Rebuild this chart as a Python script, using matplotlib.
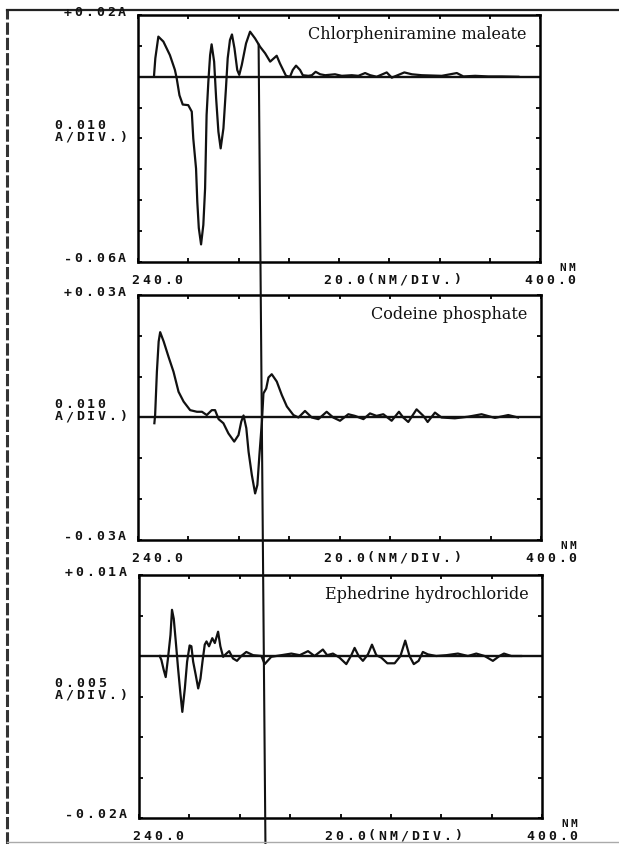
import numpy as np
import matplotlib
matplotlib.use("Agg")
import matplotlib.pyplot as plt
from matplotlib.patches import ConnectionPatch
from matplotlib.lines import Line2D

W, H = 619, 844

# Chlorpheniramine maleate
chlor_nm = [246.4, 246.9, 248.1, 250.1, 252.7, 254.7, 255.4, 256.5, 257.8, 260.0, 261.4, 262.0,
            263.1, 263.6, 264.2, 265.1, 266.0, 266.7, 267.3, 268.0, 268.7, 269.3, 270.3, 271.1,
            272.0, 272.9, 274.0, 275.0, 275.7, 276.6, 277.4, 278.4, 279.5, 280.3, 281.3, 283.0,
            284.6, 286.6, 288.6, 290.6, 292.6, 295.2, 296.5, 298.9, 300.5, 301.6, 302.9, 304.5,
            305.6, 307.8, 309.2, 310.7, 312.5, 314.5, 318.4, 321.1, 325.1, 327.7, 330.4, 332.4,
            335.0, 339.0, 341.0, 346.0, 349.0, 352.9, 360.9, 366.9, 369.5, 374.2, 379.5, 384.8,
            391.4]
chlor_a = [0.0006, 0.0060, 0.0130, 0.0114, 0.0070, 0.0022, -0.0005, -0.0060, -0.0090, -0.0092,
           -0.0113, -0.0200, -0.0297, -0.0405, -0.0490, -0.0543, -0.0480, -0.0362, -0.0124,
           -0.0016, 0.0070, 0.0105, 0.0049, -0.0070, -0.0178, -0.0232, -0.0167, -0.0038, 0.0060,
           0.0119, 0.0137, 0.0092, 0.0022, 0.0006, 0.0038, 0.0108, 0.0146, 0.0124, 0.0097,
           0.0076, 0.0049, 0.0068, 0.0043, 0.0003, 0.0000, 0.0022, 0.0036, 0.0022, 0.0005,
           0.0003, 0.0005, 0.0016, 0.0008, 0.0005, 0.0008, 0.0003, 0.0005, 0.0003, 0.0012,
           0.0005, 0.0000, 0.0014, -0.0003, 0.0014, 0.0008, 0.0005, 0.0003, 0.0012, 0.0001,
           0.0003, 0.0001, 0.0001, 0.0000]

# Codeine phosphate
cod_nm = [246.5, 246.8, 247.5, 248.2, 248.8, 250.2, 252.1, 254.1, 256.1, 258.1, 260.7, 263.4,
          265.4, 267.3, 269.3, 270.6, 272.0, 273.9, 275.9, 278.2, 279.9, 281.0, 281.9, 283.0,
          283.9, 285.2, 286.5, 287.4, 288.2, 289.2, 289.8, 290.9, 291.8, 293.1, 295.1, 297.1,
          299.1, 301.7, 303.7, 306.3, 309.0, 311.6, 314.9, 317.5, 320.2, 323.5, 326.1, 329.5,
          332.1, 334.7, 337.4, 340.7, 343.6, 345.3, 347.3, 350.6, 353.3, 355.0, 357.9, 360.5,
          365.8, 371.1, 376.4, 381.7, 387.0, 390.9]
cod_a = [-0.0014, 0.0006, 0.0112, 0.0186, 0.0209, 0.0186, 0.0149, 0.0112, 0.0063, 0.0039,
         0.0018, 0.0014, 0.0014, 0.0006, 0.0018, 0.0018, -0.0004, -0.0014, -0.0039, -0.0059,
         -0.0043, -0.0010, 0.0005, -0.0026, -0.0084, -0.0141, -0.0186, -0.0165, -0.0092,
         -0.0010, 0.0059, 0.0071, 0.0098, 0.0106, 0.0088, 0.0055, 0.0027, 0.0006, 0.0000,
         0.0016, 0.0000, -0.0004, 0.0014, 0.0000, -0.0008, 0.0008, 0.0004, -0.0004, 0.0010,
         0.0004, 0.0008, -0.0008, 0.0014, 0.0000, -0.0011, 0.0020, 0.0004, -0.0011, 0.0012,
         0.0000, -0.0002, 0.0002, 0.0008, -0.0001, 0.0006, 0.0000]

# Ephedrine hydrochloride
eph_nm = [248.2, 248.9, 249.8, 250.6, 251.5, 252.5, 253.1, 253.8, 254.6, 255.5, 256.4, 257.2,
          258.2, 259.1, 260.1, 260.8, 261.5, 262.5, 263.5, 264.4, 265.2, 266.1, 266.8, 267.8,
          269.1, 270.1, 271.4, 272.3, 273.4, 274.7, 275.8, 277.3, 278.9, 280.6, 282.6, 285.3,
          288.6, 289.9, 292.5, 296.5, 300.5, 303.8, 307.1, 309.7, 313.0, 314.7, 317.0, 319.6,
          322.3, 324.3, 325.6, 327.2, 328.9, 330.9, 332.5, 334.2, 336.2, 338.6, 341.5, 343.8,
          345.7, 347.4, 349.1, 351.0, 352.7, 354.7, 358.0, 362.0, 366.6, 370.6, 373.9, 377.2,
          380.5, 383.1, 384.9, 387.8, 391.7]
eph_a = [0.0000, -0.0005, -0.0017, -0.0026, -0.0003, 0.0026, 0.0057, 0.0046, 0.0018, -0.0015,
         -0.0045, -0.0069, -0.0040, -0.0007, 0.0013, 0.0012, -0.0007, -0.0023, -0.0040, -0.0028,
         -0.0007, 0.0014, 0.0018, 0.0012, 0.0022, 0.0016, 0.0030, 0.0012, -0.0001, 0.0003,
         0.0006, -0.0003, -0.0006, 0.0000, 0.0005, 0.0001, 0.0000, -0.0010, -0.0001, 0.0001,
         0.0003, 0.0001, 0.0006, 0.0000, 0.0008, 0.0001, 0.0003, -0.0002, -0.0010, 0.0001,
         0.0010, 0.0000, -0.0006, 0.0002, 0.0014, 0.0001, -0.0002, -0.0009, -0.0009, 0.0000,
         0.0019, 0.0000, -0.0010, -0.0006, 0.0005, 0.0002, 0.0000, 0.0001, 0.0003, 0.0000,
         0.0003, 0.0000, -0.0006, 0.0000, 0.0003, 0.0000, 0.0000]

names = ["Chlorpheniramine maleate", "Codeine phosphate", "Ephedrine hydrochloride"]
y_top = [0.02, 0.03, 0.01]
y_bot = [-0.06, -0.03, -0.02]
y_step = [0.010, 0.010, 0.005]
top_lbl = ["+0.02A", "+0.03A", "+0.01A"]
bot_lbl = ["-0.06A", "-0.03A", "-0.02A"]
step_lbl = ["0.010", "0.010", "0.005"]
X_MIN, X_MAX, X_STEP = 240, 400, 20
CURSOR_NM = (288.0, 290.2)

# axes boxes in pixels: left, top, right, bottom
boxes = [(138, 15, 540, 262), (138, 295, 541, 540), (139, 575, 542, 818)]

fig = plt.figure(figsize=(W / 100, H / 100), dpi=100)
fig.patch.set_facecolor("white")


def px_text(x, y, s, ha="left", pitch=10.8, size=9.5):
    # dot-matrix plotter lettering, fixed pitch
    n = len(s)
    if ha == "right":
        x0 = x - n * pitch
    elif ha == "center":
        x0 = x - n * pitch / 2
    else:
        x0 = x
    for i, ch in enumerate(s):
        fig.text((x0 + (i + 0.5) * pitch) / W, 1 - y / H, ch, ha="center", va="center",
                 family="DejaVu Sans Mono", weight="bold", size=size, color="#111111")


series = [(chlor_nm, chlor_a), (cod_nm, cod_a), (eph_nm, eph_a)]
axes = []
for i, (l, t, r, b) in enumerate(boxes):
    ax = fig.add_axes([l / W, 1 - b / H, (r - l) / W, (b - t) / H])
    nm, a = series[i]
    ax.plot(nm, a, color="#111111", lw=1.6)
    ax.axhline(0, color="#111111", lw=1.7)
    ax.set_xlim(X_MIN, X_MAX)
    ax.set_ylim(y_bot[i], y_top[i])
    ax.set_xticks(np.arange(X_MIN, X_MAX + 1, X_STEP))
    ax.set_yticks(np.arange(y_bot[i], y_top[i] + y_step[i] / 2, y_step[i]))
    ax.tick_params(direction="in", length=3, width=1.3, top=True, right=True,
                   labelleft=False, labelbottom=False)
    for sp in ax.spines.values():
        sp.set_linewidth(1.8)
    ax.text(0.967, 0.92, names[i], transform=ax.transAxes, ha="right", va="center",
            family="DejaVu Serif", size=11.5, color="#111111")

    mid = (t + b) / 2
    px_text(l - 11, t - 2, top_lbl[i], ha="right")
    px_text(l - 11, b - 3, bot_lbl[i], ha="right")
    px_text(53, mid - 13, step_lbl[i])
    px_text(53, mid - 1, "A/DIV.)")
    px_text(l - 8, b + 18, "240.0")
    px_text(l + 184, b + 18, "20.0(NM/DIV.)")
    px_text(r + 37, b + 18, "400.0", ha="right")
    px_text(r + 37, b + 6, "NM", ha="right", pitch=9.5, size=8)
    axes.append(ax)

# cursor line drawn by the recorder, runs from the first curve down to the paper edge
top_val = np.interp(CURSOR_NM[0], chlor_nm, chlor_a)
con = ConnectionPatch(xyA=(CURSOR_NM[0], top_val), coordsA=axes[0].transData,
                      xyB=(CURSOR_NM[1], -0.11), coordsB=axes[2].get_xaxis_transform(),
                      color="#111111", lw=1.5)
fig.add_artist(con)

# scanned page border
fig.add_artist(Line2D([7 / W, 7 / W], [0, 1 - 10 / H], transform=fig.transFigure,
                      color="#333333", lw=2.2, ls=(0, (4, 1))))
fig.add_artist(Line2D([7 / W, 1], [1 - 10 / H, 1 - 10 / H], transform=fig.transFigure,
                      color="#222222", lw=1.6))
fig.add_artist(Line2D([7 / W, 1], [1 - 842 / H, 1 - 842 / H], transform=fig.transFigure,
                      color="#aaaaaa", lw=1.0))

fig.savefig("out.png", dpi=100, facecolor="white")
